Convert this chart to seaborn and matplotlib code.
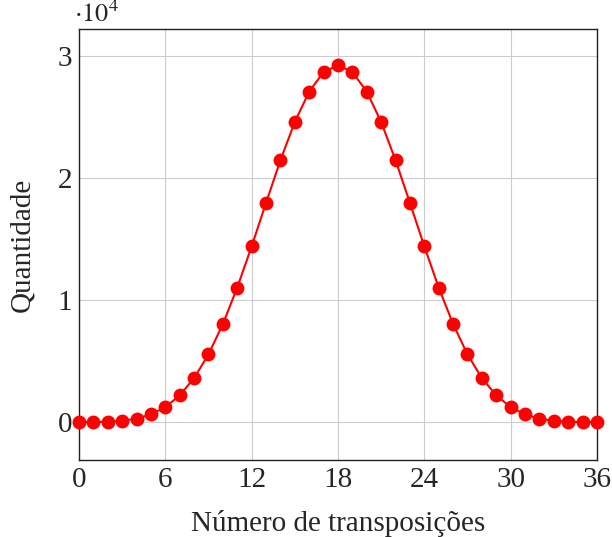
import pandas as pd
import matplotlib.pyplot as plt
import seaborn as sns

# number of permutations of 9 elements per count of transpositions (inversions)
transp = list(range(0, 37))
quant = [1, 8, 35, 111, 285, 628, 1230, 2191, 3606, 5545, 8031, 11021, 14395,
         17957, 21450, 24584, 27073, 28675, 29228, 28675, 27073, 24584, 21450,
         17957, 14395, 11021, 8031, 5545, 3606, 2191, 1230, 628, 285, 111, 35, 8, 1]
xticks = [0, 6, 12, 18, 24, 30, 36]
yticks = [0, 10000, 20000, 30000]
ylabels = ['0', '1', '2', '3']

sns.set_style('whitegrid')
plt.rcParams['font.family'] = ['Liberation Serif', 'DejaVu Serif']
plt.rcParams['font.size'] = 21
plt.rcParams['mathtext.fontset'] = 'stix'

df = pd.DataFrame({'Número de transposições': transp, 'Quantidade': quant})

fig = plt.figure(figsize=(6.12, 5.37), dpi=100)
ax = fig.add_axes([0.129, 0.1434, 0.8465, 0.8026])
sns.lineplot(data=df, x='Número de transposições', y='Quantidade', ax=ax,
             color='red', marker='o', markersize=10, markeredgewidth=0,
             linewidth=1.5, clip_on=False, zorder=3)

ax.set_xlim(0, 36)
ax.set_ylim(-3100, 32200)
ax.set_xticks(xticks)
ax.set_yticks(yticks)
ax.set_yticklabels(ylabels)
ax.grid(True, color='#cccccc', linewidth=0.8)
for s in ax.spines.values():
    s.set_visible(True)
    s.set_color('#222222')
    s.set_linewidth(1.0)
ax.tick_params(direction='in', length=4, color='#333333', pad=5)
ax.set_xlabel('Número de transposições', labelpad=12)
ax.set_ylabel('Quantidade', labelpad=16)
ax.text(-0.01, 1.005, r'$\cdot 10^4$', transform=ax.transAxes, fontsize=19,
        ha='left', va='bottom')

fig.savefig('out.png', dpi=100)
